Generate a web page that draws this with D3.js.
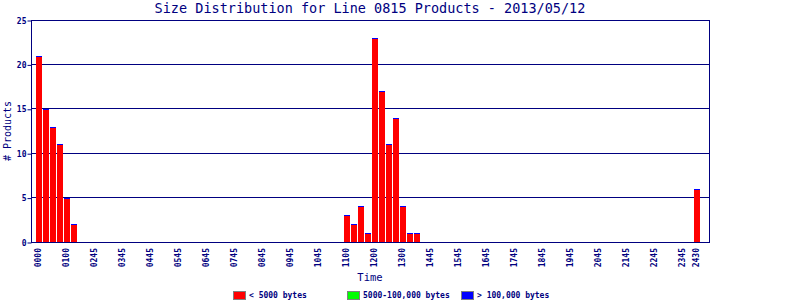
<!DOCTYPE html>
<html>
<head>
<meta charset="utf-8">
<script src="https://cdn.jsdelivr.net/npm/d3@7"></script>
<style>
  body { margin: 0; background: #fff; }
  svg { display: block; font-family: "DejaVu Sans Mono", monospace; }
</style>
</head>
<body>
<figure id="size-dist" style="margin:0"></figure>
<script>
const chartTitle = "Size Distribution for Line 0815 Products - 2013/05/12";
const seriesNames = ["< 5000 bytes", "5000-100,000 bytes", "> 100,000 bytes"];
const seriesColors = ["#ff0000", "#00ff00", "#0000ff"];

// products per 15 minute slot
const smallCounts = [
  21, 15, 13, 11, 5, 2, 0, 0, 0, 0, 0, 0, 0, 0, 0, 0,
  0, 0, 0, 0, 0, 0, 0, 0, 0, 0, 0, 0, 0, 0, 0, 0,
  0, 0, 0, 0, 0, 0, 0, 0, 0, 0, 0, 0, 3, 2, 4, 1,
  23, 17, 11, 14, 4, 1, 1, 0, 0, 0, 0, 0, 0, 0, 0, 0,
  0, 0, 0, 0, 0, 0, 0, 0, 0, 0, 0, 0, 0, 0, 0, 0,
  0, 0, 0, 0, 0, 0, 0, 0, 0, 0, 0, 0, 0, 0, 6, 0
];
const mediumCounts = [
  0, 0, 0, 0, 0, 0, 0, 0, 0, 0, 0, 0, 0, 0, 0, 0,
  0, 0, 0, 0, 0, 0, 0, 0, 0, 0, 0, 0, 0, 0, 0, 0,
  0, 0, 0, 0, 0, 0, 0, 0, 0, 0, 0, 0, 0, 0, 0, 0,
  0, 0, 0, 0, 0, 0, 0, 0, 0, 0, 0, 0, 0, 0, 0, 0,
  0, 0, 0, 0, 0, 0, 0, 0, 0, 0, 0, 0, 0, 0, 0, 0,
  0, 0, 0, 0, 0, 0, 0, 0, 0, 0, 0, 0, 0, 0, 0, 0
];
const largeCounts = [
  0, 0, 0, 0, 0, 0, 0, 0, 0, 0, 0, 0, 0, 0, 0, 0,
  0, 0, 0, 0, 0, 0, 0, 0, 0, 0, 0, 0, 0, 0, 0, 0,
  0, 0, 0, 0, 0, 0, 0, 0, 0, 0, 0, 0, 0, 0, 0, 0,
  0, 0, 0, 0, 0, 0, 0, 0, 0, 0, 0, 0, 0, 0, 0, 0,
  0, 0, 0, 0, 0, 0, 0, 0, 0, 0, 0, 0, 0, 0, 0, 0,
  0, 0, 0, 0, 0, 0, 0, 0, 0, 0, 0, 0, 0, 0, 0, 0
];
const slots = smallCounts.map((d, i) => i);

const yTicks = [0, 5, 10, 15, 20, 25];
const xTickSlots = [0, 4, 8, 12, 16, 20, 24, 28, 32, 36, 40, 44, 48, 52, 56, 60,
  64, 68, 72, 76, 80, 84, 88, 92, 94];
const xTickLabels = ["0000", "0100", "0245", "0345", "0445", "0545", "0645", "0745",
  "0845", "0945", "1045", "1100", "1200", "1300", "1445", "1545", "1645", "1745",
  "1845", "1945", "2045", "2145", "2245", "2345", "2430"];

const width = 800, height = 300;
const plot = {left: 31, right: 709, top: 20, bottom: 242};
const navy = "#000080";

const svg = d3.select("figure#size-dist")
  .append("svg")
  .attr("width", width)
  .attr("height", height);

const x = d3.scaleBand()
  .domain(slots)
  .range([plot.left, plot.right])
  .paddingInner(1 / 7)
  .paddingOuter(0.5)
  .align(5 / 7);
const y = d3.scaleLinear()
  .domain([0, 25])
  .range([plot.bottom, plot.top]);

const crisp = v => Math.floor(v) + 0.5;

// grid lines
svg.append("g")
  .selectAll("line")
  .data(yTicks.slice(1))
  .enter().append("line")
  .attr("x1", plot.left).attr("x2", plot.right + 1)
  .attr("y1", d => crisp(y(d))).attr("y2", d => crisp(y(d)))
  .attr("stroke", navy);

// stacked bars
const rows = slots.map(i => ({slot: i, s: smallCounts[i], m: mediumCounts[i], l: largeCounts[i]}));
const stacked = d3.stack().keys(["s", "m", "l"])(rows);

svg.append("g")
  .selectAll("g")
  .data(stacked)
  .enter().append("g")
  .attr("fill", (d, i) => seriesColors[i])
  .selectAll("rect")
  .data(d => d.filter(p => p.data.s + p.data.m + p.data.l > 0))
  .enter().append("rect")
  .attr("x", d => x(d.data.slot))
  .attr("width", x.bandwidth())
  .attr("y", d => Math.round(y(d[1])))
  .attr("height", d => Math.max(1, Math.round(y(d[0])) - Math.round(y(d[1]))));

// frame
svg.append("rect")
  .attr("x", plot.left + 0.5).attr("y", plot.top + 0.5)
  .attr("width", plot.right - plot.left).attr("height", plot.bottom - plot.top)
  .attr("fill", "none")
  .attr("stroke", navy);

// y axis
const yAxis = svg.append("g")
  .attr("transform", `translate(${plot.left + 0.5},0.5)`)
  .call(d3.axisLeft(y).tickValues(yTicks).tickSize(4).tickPadding(1));
yAxis.select(".domain").remove();
yAxis.selectAll("line").attr("stroke", navy);
yAxis.selectAll("text")
  .attr("fill", navy)
  .style("font-family", "DejaVu Sans Mono")
  .style("font-weight", "bold")
  .style("font-size", "8px");

// x axis
const xAxis = svg.append("g")
  .attr("transform", `translate(-1,${plot.bottom})`)
  .call(d3.axisBottom(x).tickValues(xTickSlots)
    .tickFormat((d, i) => xTickLabels[i]).tickSize(0));
xAxis.select(".domain").remove();
xAxis.selectAll("text")
  .attr("fill", navy)
  .attr("transform", "rotate(-90)")
  .attr("text-anchor", "end")
  .attr("x", -6)
  .attr("y", 0)
  .attr("dy", "0.35em")
  .style("font-family", "DejaVu Sans Mono")
  .style("font-weight", "bold")
  .style("font-size", "8px");

// title and axis labels
svg.append("text")
  .attr("x", (plot.left + plot.right) / 2)
  .attr("y", 13)
  .attr("text-anchor", "middle")
  .attr("fill", navy)
  .style("font-size", "13.5px")
  .text(chartTitle);

svg.append("text")
  .attr("x", (plot.left + plot.right) / 2)
  .attr("y", 281)
  .attr("text-anchor", "middle")
  .attr("fill", navy)
  .style("font-size", "10.5px")
  .text("Time");

svg.append("text")
  .attr("transform", `translate(11,${(plot.top + plot.bottom) / 2}) rotate(-90)`)
  .attr("text-anchor", "middle")
  .attr("fill", navy)
  .style("font-size", "10px")
  .text("# Products");

// legend
const legend = svg.append("g")
  .selectAll("g")
  .data(seriesNames)
  .enter().append("g")
  .attr("transform", (d, i) => `translate(${233 + 114 * i},291)`);
legend.append("rect")
  .attr("x", 0.5).attr("y", 0.5)
  .attr("width", 12).attr("height", 8)
  .attr("fill", (d, i) => seriesColors[i])
  .attr("stroke", "#808080");
legend.append("text")
  .attr("x", 16)
  .attr("y", 4.5)
  .attr("dy", "0.35em")
  .attr("fill", navy)
  .style("font-weight", "bold")
  .style("font-size", "8px")
  .text(d => d);
</script>
</body>
</html>
